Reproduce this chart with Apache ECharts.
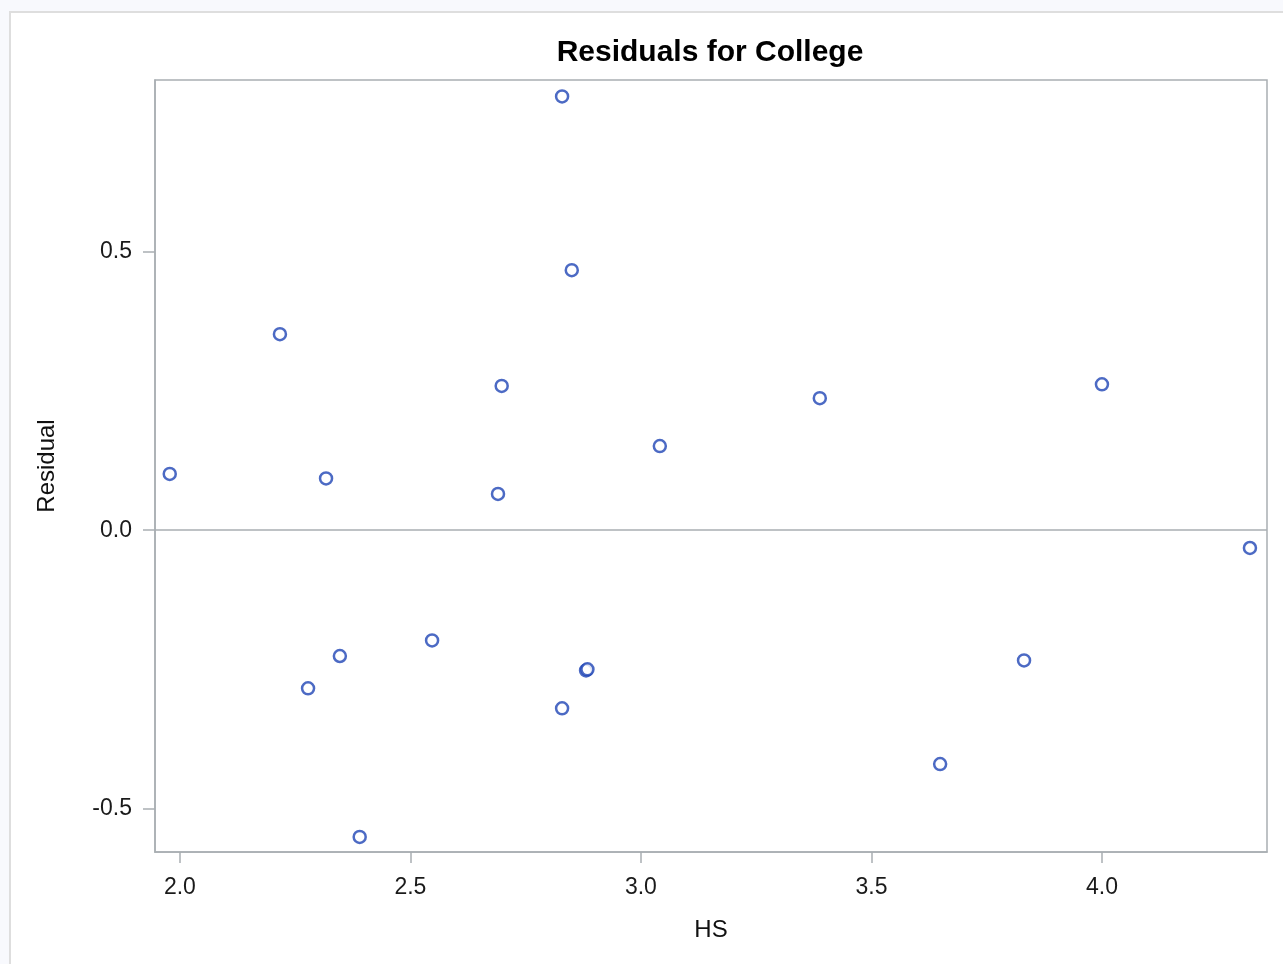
<!DOCTYPE html>
<html>
<head>
<meta charset="utf-8">
<script src="https://cdn.jsdelivr.net/npm/echarts@6/dist/echarts.min.js"></script>
<style>
  html, body { margin: 0; padding: 0; width: 1283px; height: 964px; overflow: hidden; background: #f8f9fd; }
  #frame { position: absolute; left: 9px; top: 11px; width: 1280px; height: 960px; background: #ffffff; border-left: 2px solid #dedede; border-top: 2px solid #dedede; }
  #chart { position: absolute; left: 0; top: 0; width: 1283px; height: 964px; }
</style>
</head>
<body>
<div id="frame"></div>
<div id="chart"></div>
<script>
// HS values (x) and residuals (y)
const hsValues = [1.978, 2.217, 2.278, 2.317, 2.347, 2.390, 2.547, 2.690, 2.698, 2.829, 2.850, 2.829, 2.881, 2.884, 3.041, 3.388, 3.649, 3.831, 4.000, 4.321];
const residualValues = [0.101, 0.352, -0.284, 0.093, -0.226, -0.551, -0.198, 0.065, 0.259, 0.779, 0.467, -0.320, -0.252, -0.250, 0.151, 0.237, -0.420, -0.234, 0.262, -0.032];
const xTicks = [2.0, 2.5, 3.0, 3.5, 4.0];
const yTicks = [-0.5, 0.0, 0.5];

const points = hsValues.map((x, i) => [x, residualValues[i]]);

const axisColor = '#a9aeb2';
const font = 'Liberation Sans, Arial, sans-serif';
const chart = echarts.init(document.getElementById('chart'), null, { renderer: 'canvas' });
chart.setOption({
  backgroundColor: 'transparent',
  animation: false,
  title: {
    text: 'Residuals for College',
    left: 705,
    textAlign: 'center',
    top: 33,
    textStyle: { fontFamily: font, fontSize: 30, fontWeight: 'bold', color: '#000000' }
  },
  grid: {
    left: 155, right: 16, top: 80, bottom: 112,
    show: true, borderColor: axisColor, borderWidth: 1.5, backgroundColor: '#ffffff'
  },
  xAxis: {
    type: 'value',
    min: 1.946, max: 4.358,
    name: 'HS',
    nameLocation: 'middle',
    nameGap: 66,
    nameTextStyle: { fontFamily: font, fontSize: 24, color: '#111111' },
    axisLine: { show: true, onZero: false, lineStyle: { color: axisColor, width: 1.5 } },
    axisTick: { show: true, length: 11, lineStyle: { color: axisColor, width: 1.5 }, customValues: xTicks },
    axisLabel: {
      margin: 24, fontFamily: font, fontSize: 23, color: '#1a1a1a',
      customValues: xTicks,
      formatter: v => Number(v).toFixed(1)
    },
    splitLine: { show: false }
  },
  yAxis: {
    type: 'value',
    min: -0.578, max: 0.8085,
    name: 'Residual',
    nameLocation: 'middle',
    nameGap: 96,
    nameTextStyle: { fontFamily: font, fontSize: 24, color: '#111111' },
    axisLine: { show: true, onZero: false, lineStyle: { color: axisColor, width: 1.5 } },
    axisTick: { show: true, length: 12, lineStyle: { color: axisColor, width: 1.5 }, customValues: yTicks },
    axisLabel: {
      margin: 23, fontFamily: font, fontSize: 23, color: '#1a1a1a',
      customValues: yTicks,
      formatter: v => Number(v).toFixed(1)
    },
    splitLine: { show: false }
  },
  series: [{
    type: 'scatter',
    data: points,
    symbol: 'circle',
    symbolSize: 12,
    itemStyle: { color: '#ffffff', borderColor: '#1f45b5', borderWidth: 2.5 },
    markLine: {
      silent: true,
      symbol: ['none', 'none'],
      label: { show: false },
      lineStyle: { color: axisColor, width: 1.5, type: 'solid' },
      data: [{ yAxis: 0 }]
    },
    z: 3
  }]
});
</script>
</body>
</html>
